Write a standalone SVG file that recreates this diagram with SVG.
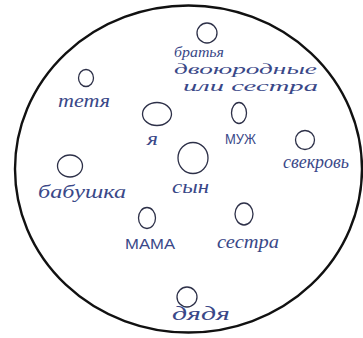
<svg xmlns="http://www.w3.org/2000/svg" width="363" height="338" viewBox="0 0 363 338">
<style>
.bg{fill:#ffffff}
.outer{fill:none;stroke:#111111;stroke-width:2.4}
.dot{fill:none;stroke:#2d3048;stroke-width:1.3}
.lbl{font-family:"Liberation Serif","DejaVu Serif",serif;font-style:italic;font-size:18px;fill:#3a4888}
.sm{font-size:15px}
.cap{font-family:"Liberation Sans","DejaVu Sans",sans-serif;font-style:normal;font-size:14px;fill:#3a4888}
</style>
<rect class="bg" x="0" y="0" width="363" height="338"/>
<g id="boundary">
<ellipse class="outer" cx="188.5" cy="169" rx="173.5" ry="163.5"/>
</g>
<g id="connectors"></g>
<g id="node-bratya">
<ellipse class="dot" cx="207" cy="33" rx="10" ry="10"/>
<text class="lbl sm" x="174" y="57" textLength="50" lengthAdjust="spacingAndGlyphs">братья</text>
<text class="lbl sm" x="174" y="74" textLength="143" lengthAdjust="spacingAndGlyphs">двоюродные</text>
<text class="lbl sm" x="183" y="91" textLength="135" lengthAdjust="spacingAndGlyphs">или сестра</text>
</g>
<g id="node-tetya">
<ellipse class="dot" cx="86" cy="78" rx="7.5" ry="8.5"/>
<text class="lbl" x="58" y="107" textLength="52" lengthAdjust="spacingAndGlyphs">тетя</text>
</g>
<g id="node-ya">
<ellipse class="dot" cx="157" cy="114" rx="14.5" ry="11.5"/>
<text class="lbl" x="147" y="145" textLength="11" lengthAdjust="spacingAndGlyphs">я</text>
</g>
<g id="node-muzh">
<ellipse class="dot" cx="239" cy="113" rx="7.5" ry="10.5"/>
<text class="cap" x="225" y="144" textLength="31" lengthAdjust="spacingAndGlyphs">МУЖ</text>
</g>
<g id="node-syn">
<ellipse class="dot" cx="193" cy="158" rx="15" ry="15.5"/>
<text class="lbl" x="172" y="193" textLength="37" lengthAdjust="spacingAndGlyphs">сын</text>
</g>
<g id="node-svekrov">
<ellipse class="dot" cx="305" cy="140" rx="9.5" ry="9.5"/>
<text class="lbl" x="283" y="168" textLength="66" lengthAdjust="spacingAndGlyphs">свекровь</text>
</g>
<g id="node-babushka">
<ellipse class="dot" cx="70" cy="166" rx="12.5" ry="11"/>
<text class="lbl" x="38" y="198" textLength="88" lengthAdjust="spacingAndGlyphs">бабушка</text>
</g>
<g id="node-mama">
<ellipse class="dot" cx="147" cy="218" rx="8.5" ry="10.5"/>
<text class="cap" x="125" y="249" textLength="50" lengthAdjust="spacingAndGlyphs">МАМА</text>
</g>
<g id="node-sestra">
<ellipse class="dot" cx="244" cy="214" rx="9" ry="11"/>
<text class="lbl" x="217" y="248" textLength="62" lengthAdjust="spacingAndGlyphs">сестра</text>
</g>
<g id="node-dyadya">
<ellipse class="dot" cx="187" cy="297" rx="10" ry="10"/>
<text class="lbl" x="172" y="320" textLength="58" lengthAdjust="spacingAndGlyphs">дядя</text>
</g>
</svg>
